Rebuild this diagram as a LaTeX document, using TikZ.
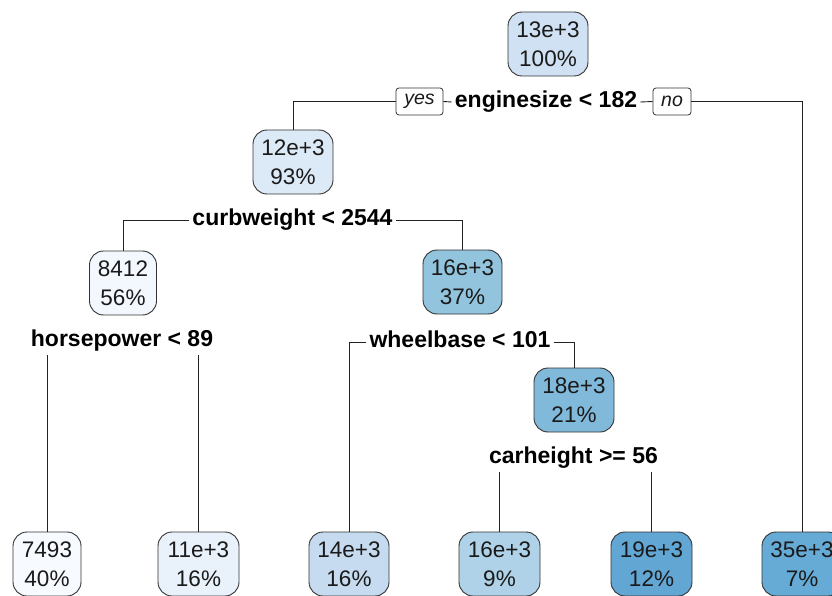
\documentclass[tikz,border=0pt]{standalone}
\usepackage{fontspec}
\setmainfont{Liberation Sans}
\definecolor{bordergray}{HTML}{333333}
\definecolor{linegray}{HTML}{222222}
\definecolor{textdark}{HTML}{1A1A1A}
\definecolor{cRoot}{HTML}{CFE1F2}
\definecolor{cA}{HTML}{DCE9F6}
\definecolor{cB}{HTML}{F3F8FE}
\definecolor{cC}{HTML}{92C4DE}
\definecolor{cD}{HTML}{81B9DB}
\definecolor{cE}{HTML}{F7FBFF}
\definecolor{cF}{HTML}{E9F2FB}
\definecolor{cG}{HTML}{C6DBEF}
\definecolor{cH}{HTML}{B0D2E8}
\definecolor{cI}{HTML}{62A6D4}
\definecolor{cJ}{HTML}{66AAD6}
\tikzset{
  leaf/.style={draw=bordergray, line width=0.9pt, rounded corners=14pt,
    align=center, font=\fontsize{22.5}{29}\selectfont, text=textdark,
    inner sep=0pt, minimum height=64pt},
  splitlab/.style={font=\bfseries\fontsize{23}{26}\selectfont, fill=white,
    inner xsep=3pt, inner ysep=4pt, text height=16pt, text depth=4.5pt, text=black},
  yn/.style={draw=bordergray, line width=0.8pt, rounded corners=3pt, fill=white,
    font=\itshape\fontsize{19.5}{22}\selectfont, text=textdark, inner sep=0pt,
    minimum height=27pt},
  branch/.style={line width=0.9pt, draw=linegray}
}
\begin{document}
\begin{tikzpicture}[x=1pt,y=-1pt]
\clip (0,0) rectangle (832,596);
\fill[white] (0,0) rectangle (832,596);
% internal nodes
\node[leaf, fill=cRoot, minimum width=80pt] (n1) at (548,44) {13e+3\\100\%};
\node[leaf, fill=cA, minimum width=80pt] (n2) at (293,162) {12e+3\\93\%};
\node[leaf, fill=cB, minimum width=67pt] (n3) at (123,283) {8412\\56\%};
\node[leaf, fill=cC, minimum width=79pt] (n4) at (462.5,282) {16e+3\\37\%};
\node[leaf, fill=cD, minimum width=80pt] (n5) at (574,400) {18e+3\\21\%};
% leaves
\node[leaf, fill=cE, minimum width=68pt] (l1) at (47,564) {7493\\40\%};
\node[leaf, fill=cF, minimum width=81pt] (l2) at (198.5,564) {11e+3\\16\%};
\node[leaf, fill=cG, minimum width=80pt] (l3) at (349,564) {14e+3\\16\%};
\node[leaf, fill=cH, minimum width=81pt] (l4) at (499.5,564) {16e+3\\9\%};
\node[leaf, fill=cI, minimum width=81pt] (l5) at (651.5,564) {19e+3\\12\%};
\node[leaf, fill=cJ, minimum width=80pt] (l6) at (802,564) {35e+3\\7\%};
% split labels
\node[splitlab] (s1) at (546,102) {enginesize < 182};
\node[yn, minimum width=47pt] (yes) at (419.5,101.5) {yes};
\node[yn, minimum width=38pt] (no) at (672,101.5) {no};
\node[splitlab] (s2) at (292.5,220) {curbweight < 2544};
\node[splitlab] (s3) at (122,341) {horsepower < 89};
\node[splitlab] (s4) at (460,342) {wheelbase < 101};
\node[splitlab] (s5) at (573.5,458) {carheight >= 56};
% branches
\draw[branch] (yes.west) -| (n2.north);
\draw[branch] (yes.east) -- (s1.west);
\draw[branch] (s1.east) -- (no.west);
\draw[branch] (no.east) -| (l6.north);
\draw[branch] (s2.west) -| (n3.north);
\draw[branch] (s2.east) -| (n4.north);
\draw[branch] (s3.south -| l1.north) -- (l1.north);
\draw[branch] (s3.south -| l2.north) -- (l2.north);
\draw[branch] (s4.west) -| (l3.north);
\draw[branch] (s4.east) -| (n5.north);
\draw[branch] (s5.south -| l4.north) -- (l4.north);
\draw[branch] (s5.south -| l5.north) -- (l5.north);
\end{tikzpicture}
\end{document}
